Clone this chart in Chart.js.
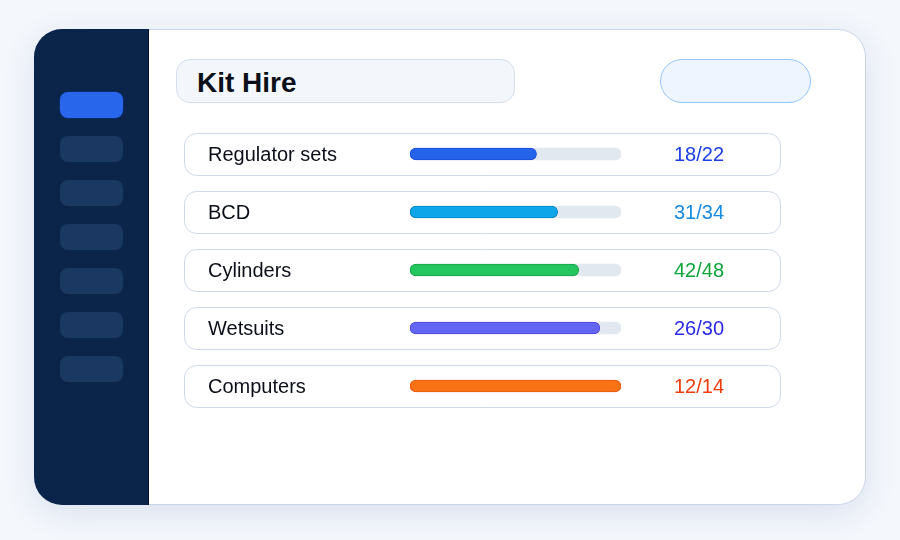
<!DOCTYPE html>
<html>
<head>
<meta charset="utf-8">
<script src="https://cdn.jsdelivr.net/npm/chart.js@4.4.0/dist/chart.umd.min.js"></script>
<style>
  html, body { margin: 0; padding: 0; }
  body { width: 900px; height: 540px; background: #f4f7fc; position: relative; overflow: hidden; font-family: "Liberation Sans", Arial, sans-serif; }
  .card { position: absolute; left: 34px; top: 29px; width: 830px; height: 474px; background: #fff; border: 1px solid #c8d6ec; border-radius: 28px; box-shadow: 0 8px 32px rgba(40, 70, 140, 0.12); }
  .side { position: absolute; left: 34px; top: 29px; width: 114px; height: 476px; background: #0a2549; border-radius: 28px 0 0 28px; border-right: 1px solid #05142a; }
  .nav { position: absolute; left: 60px; width: 63px; height: 26px; border-radius: 8px; background: #1b3862; }
  .nav.on { background: #2867ec; box-shadow: 0 0 0 1px #0d2a6a; }
  .title { position: absolute; left: 176px; top: 59px; width: 337px; height: 42px; background: #f3f6fb; border: 1px solid #d5dfee; border-radius: 14px; }
  .title span { position: absolute; left: 20px; top: 7px; font-size: 28px; font-weight: bold; color: #0b0f19; }
  .pill { position: absolute; left: 660px; top: 59px; width: 149px; height: 42px; background: #eef5ff; border: 1px solid #93c5fd; border-radius: 22px; }
  canvas { position: absolute; left: 0; top: 0; }
</style>
</head>
<body>
<div class="card"></div>
<div class="side"></div>
<div class="nav on" style="top:92px"></div>
<div class="nav" style="top:136px"></div>
<div class="nav" style="top:180px"></div>
<div class="nav" style="top:224px"></div>
<div class="nav" style="top:268px"></div>
<div class="nav" style="top:312px"></div>
<div class="nav" style="top:356px"></div>
<div class="title"><span>Kit Hire</span></div>
<div class="pill"></div>
<canvas id="chart" width="900" height="540"></canvas>
<script>
const items = ['Regulator sets', 'BCD', 'Cylinders', 'Wetsuits', 'Computers'];
const fillPct = [60, 70, 80, 90, 100];
const counts = ['18/22', '31/34', '42/48', '26/30', '12/14'];
const barColors = ['#2563eb', '#0ea5e9', '#22c55e', '#6366f1', '#f97316'];
const barEdges = ['#1d4ed8', '#0284c7', '#16a34a', '#4f46e5', '#ea580c'];
const textColors = ['#1a3de6', '#178ae2', '#0ca53a', '#2a2ae6', '#f03c0a'];

function roundRect(ctx, x, y, w, h, r) {
    ctx.beginPath();
    ctx.moveTo(x + r, y);
    ctx.arcTo(x + w, y, x + w, y + h, r);
    ctx.arcTo(x + w, y + h, x, y + h, r);
    ctx.arcTo(x, y + h, x, y, r);
    ctx.arcTo(x, y, x + w, y, r);
    ctx.closePath();
}

// row boxes behind the bars, labels and counts on top
const rowPlugin = {
    id: 'rows',
    beforeDatasetsDraw(chart) {
        const ctx = chart.ctx;
        const y = chart.scales.y;
        ctx.save();
        items.forEach((name, i) => {
            const cy = y.getPixelForValue(i);
            roundRect(ctx, 184.5, cy - 20.5, 596, 42, 12);
            ctx.fillStyle = '#ffffff';
            ctx.fill();
            ctx.strokeStyle = '#cfd9e9';
            ctx.lineWidth = 1;
            ctx.stroke();
        });
        ctx.restore();
    },
    afterDatasetsDraw(chart) {
        const ctx = chart.ctx;
        const y = chart.scales.y;
        ctx.save();
        ctx.font = '20px "Liberation Sans", Arial, sans-serif';
        ctx.textBaseline = 'middle';
        items.forEach((name, i) => {
            const cy = y.getPixelForValue(i) + 1;
            ctx.fillStyle = '#0b0f19';
            ctx.textAlign = 'left';
            ctx.fillText(name, 208, cy);
            ctx.fillStyle = textColors[i];
            ctx.textAlign = 'center';
            ctx.fillText(counts[i], 699, cy);
        });
        ctx.restore();
    }
};

new Chart(document.getElementById('chart').getContext('2d'), {
    type: 'bar',
    data: {
        labels: items,
        datasets: [{
            data: fillPct,
            backgroundColor: barColors,
            borderColor: barEdges,
            borderWidth: 1,
            borderRadius: 6,
            borderSkipped: false,
            barThickness: 12,
            grouped: false,
            order: 0
        }, {
            data: items.map(() => 100),
            backgroundColor: '#e2e8f0',
            borderWidth: 0,
            borderRadius: 6,
            borderSkipped: false,
            barThickness: 12,
            grouped: false,
            order: 1
        }]
    },
    options: {
        indexAxis: 'y',
        responsive: false,
        animation: false,
        layout: { padding: { left: 410, right: 279, top: 125, bottom: 125 } },
        scales: {
            x: { display: false, min: 0, max: 100 },
            y: { display: false }
        },
        plugins: { legend: { display: false }, tooltip: { enabled: false } }
    },
    plugins: [rowPlugin]
});
</script>
</body>
</html>
